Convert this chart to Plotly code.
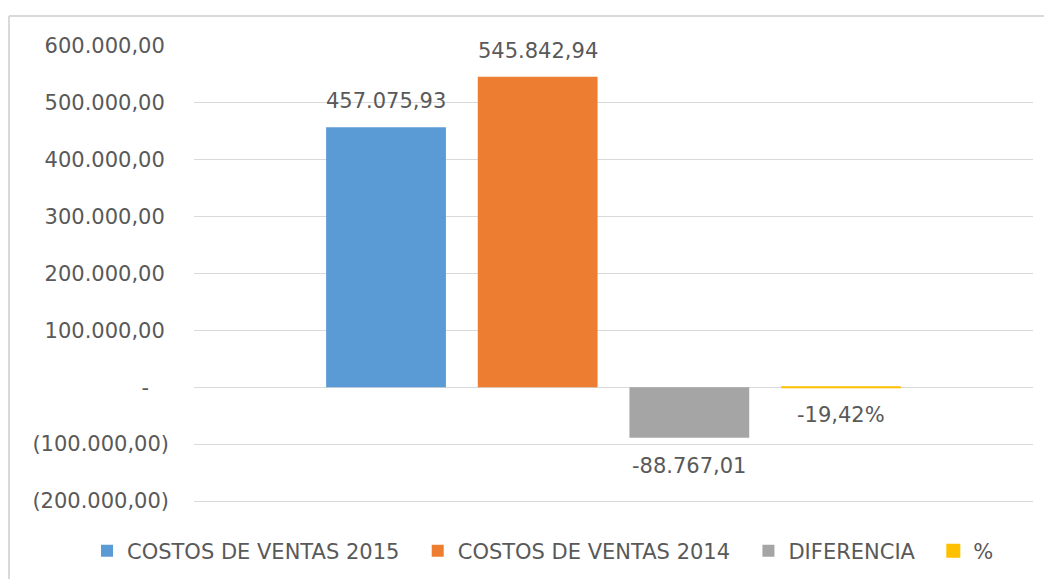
import plotly.graph_objects as go

series_names = ["COSTOS DE VENTAS 2015", "COSTOS DE VENTAS 2014", "DIFERENCIA", "%"]
series_values = [457075.93, 545842.94, -88767.01, -0.1942]
series_is_pct = [False, False, False, True]
series_colors = ["#5B9BD5", "#ED7D31", "#A5A5A5", "#FFC000"]
category = ["COSTOS"]
tick_values = [-200000, -100000, 0, 100000, 200000, 300000, 400000, 500000, 600000]

TXT = "#595959"
FONT = "DejaVu Sans"
BARGAP = 0.277
GROUPGAP = 0.21


def es_num(v):
    s = f"{abs(v):,.2f}".replace(",", "X").replace(".", ",").replace("X", ".")
    return s


def label_text(v, pct):
    if pct:
        return ("-" if v < 0 else "") + f"{abs(v) * 100:.2f}".replace(".", ",") + "%"
    return ("-" if v < 0 else "") + es_num(v)


def tick_text(v):
    if v == 0:
        return "-\u00a0\u00a0\u00a0"
    if v < 0:
        return "(" + es_num(v) + ")"
    return es_num(v) + "\u2009"


fig = go.Figure()
n = len(series_names)
annotations = []
for i, (name, val, pct, col) in enumerate(zip(series_names, series_values, series_is_pct, series_colors)):
    fig.add_trace(go.Bar(
        x=category, y=[val], name=name + "\u00a0\u00a0",
        marker=dict(color=col, line=dict(color=col, width=2 if pct else 0)),
        hoverinfo="skip",
    ))
    slot = (1 - BARGAP) / n
    xc = -(1 - BARGAP) / 2 + (i + 0.5) * slot
    annotations.append(dict(
        x=xc, y=val, xref="x", yref="y", text=label_text(val, pct), showarrow=False,
        yanchor="bottom" if val > 0 else "top", yshift=12 if val > 0 else -14,
        font=dict(family=FONT, size=21, color=TXT),
    ))

# page has an 8px body margin: figure is drawn 8px in from the top-left corner
W, H = 1044, 571
L, R, T, B = 186, 19, 38, 76
pw, ph = W - L - R, H - T - B

shapes = [
    dict(type="line", xref="paper", yref="paper",
         x0=(1 - L) / pw, x1=(W + 5 - L) / pw, y0=1 + (T - 8) / ph, y1=1 + (T - 8) / ph,
         line=dict(color="#d9d9d9", width=2)),
    dict(type="line", xref="paper", yref="paper",
         x0=(1 - L) / pw, x1=(1 - L) / pw, y0=1 + (T - 8) / ph, y1=-(B + 5) / ph,
         line=dict(color="#d9d9d9", width=2)),
]

fig.update_layout(
    width=W, height=H,
    margin=dict(l=L, r=R, t=T, b=B, autoexpand=False),
    paper_bgcolor="white", plot_bgcolor="white",
    barmode="group", bargap=BARGAP, bargroupgap=GROUPGAP,
    font=dict(family=FONT, size=21, color=TXT),
    showlegend=True,
    legend=dict(orientation="h", x=(79 - L) / pw, xanchor="left",
                y=-(543 - (H - B)) / ph, yanchor="middle",
                font=dict(family=FONT, size=21, color=TXT),
                traceorder="normal"),
    annotations=annotations,
    shapes=shapes,
    xaxis=dict(showticklabels=False, showgrid=False, zeroline=False, showline=False, ticks=""),
    yaxis=dict(range=[-203500, 600000], tickvals=tick_values,
               ticktext=[tick_text(v) for v in tick_values],
               showgrid=True, gridcolor="#d9d9d9", gridwidth=1,
               zeroline=True, zerolinecolor="#d9d9d9", zerolinewidth=1,
               showline=False, ticks="", ticklabelstandoff=24,
               tickfont=dict(family=FONT, size=21, color=TXT)),
)

fig.write_html("out.html")
